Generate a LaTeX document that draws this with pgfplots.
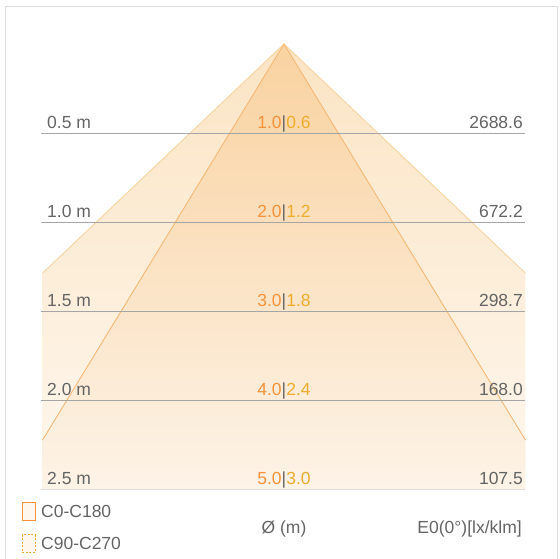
\documentclass[border=0pt]{standalone}
\usepackage{pgfplots}
\pgfplotsset{compat=1.18}
\usepackage{fontspec}
\setmainfont{Liberation Sans}
\definecolor{wideTop}{RGB}{251,228,196}
\definecolor{wideBot}{RGB}{254,247,238}
\definecolor{narTop}{RGB}{249,210,160}
\definecolor{narBot}{RGB}{253,243,231}
\definecolor{wideEdge}{RGB}{248,212,160}
\definecolor{narEdge}{RGB}{245,184,118}
\definecolor{cA}{RGB}{246,146,58}
\definecolor{cB}{RGB}{238,172,44}
\definecolor{txt}{RGB}{100,100,100}
\definecolor{rule}{RGB}{165,165,165}
\definecolor{frame}{RGB}{222,222,222}
\newcommand{\diam}[2]{\textcolor{cA}{#1}\textcolor{txt}{|}\textcolor{cB}{#2}}
\begin{document}
\begin{tikzpicture}[font=\fontsize{17.5bp}{20bp}\selectfont]
\begin{axis}[name=ax,
  width=560bp, height=559bp, scale only axis, hide axis, clip=false,
  xmin=-1.53514, xmax=1.49189,
  ymin=-0.24719, ymax=2.89326, y dir=reverse,
]
% frame
\addplot[frame, line width=1bp] coordinates {(-1.508,2.8933) (-1.508,-0.2079) (1.481,-0.2079) (1.481,2.8933)};
% wide cone (C0-C180)
\addplot[draw=none, top color=wideTop, bottom color=wideBot] coordinates {(0,0) (1.305,1.287) (1.305,2.5) (-1.305,2.5) (-1.305,1.287)} -- cycle;
% narrow cone (C90-C270)
\addplot[draw=none, top color=narTop, bottom color=narBot] coordinates {(0,0) (1.305,2.225) (1.305,2.5) (-1.305,2.5) (-1.305,2.225)} -- cycle;
\addplot[wideEdge, line width=0.9bp] coordinates {(-1.305,1.287) (0,0) (1.305,1.287)};
\addplot[narEdge, line width=0.9bp] coordinates {(-1.305,2.225) (0,0) (1.305,2.225)};
% distance rules
\addplot[rule, line width=0.9bp] coordinates {(-1.315,0.5) (1.305,0.5)};
\addplot[rule, line width=0.9bp] coordinates {(-1.315,1.0) (1.305,1.0)};
\addplot[rule, line width=0.9bp] coordinates {(-1.315,1.5) (1.305,1.5)};
\addplot[rule, line width=0.9bp] coordinates {(-1.315,2.0) (1.305,2.0)};
\addplot[frame, line width=0.9bp] coordinates {(-1.315,2.5) (1.305,2.5)};
% labels
\node[anchor=base west, text=txt, inner sep=0pt] at (axis cs:-1.281,0.475) {0.5 m};
\node[anchor=base west, text=txt, inner sep=0pt] at (axis cs:-1.281,0.975) {1.0 m};
\node[anchor=base west, text=txt, inner sep=0pt] at (axis cs:-1.281,1.475) {1.5 m};
\node[anchor=base west, text=txt, inner sep=0pt] at (axis cs:-1.281,1.975) {2.0 m};
\node[anchor=base west, text=txt, inner sep=0pt] at (axis cs:-1.281,2.475) {2.5 m};
\node[anchor=base, inner sep=0pt] at (axis cs:0,0.475) {\diam{1.0}{0.6}};
\node[anchor=base, inner sep=0pt] at (axis cs:0,0.975) {\diam{2.0}{1.2}};
\node[anchor=base, inner sep=0pt] at (axis cs:0,1.475) {\diam{3.0}{1.8}};
\node[anchor=base, inner sep=0pt] at (axis cs:0,1.975) {\diam{4.0}{2.4}};
\node[anchor=base, inner sep=0pt] at (axis cs:0,2.475) {\diam{5.0}{3.0}};
\node[anchor=base east, text=txt, inner sep=0pt] at (axis cs:1.292,0.475) {2688.6};
\node[anchor=base east, text=txt, inner sep=0pt] at (axis cs:1.292,0.975) {672.2};
\node[anchor=base east, text=txt, inner sep=0pt] at (axis cs:1.292,1.475) {298.7};
\node[anchor=base east, text=txt, inner sep=0pt] at (axis cs:1.292,1.975) {168.0};
\node[anchor=base east, text=txt, inner sep=0pt] at (axis cs:1.292,2.475) {107.5};
% legend
\draw[cA, line width=0.9bp, fill=wideBot] (axis cs:-1.416,2.573) rectangle (axis cs:-1.346,2.674);
\draw[cB, line width=0.9bp, dash pattern=on 2bp off 1.5bp, fill=wideBot] (axis cs:-1.416,2.758) rectangle (axis cs:-1.346,2.854);
\node[anchor=west, text=txt, inner sep=0pt] at (axis cs:-1.3135,2.6236) {C0-C180};
\node[anchor=west, text=txt, inner sep=0pt] at (axis cs:-1.3135,2.8034) {C90-C270};
\node[text=txt, inner sep=0pt] at (axis cs:0,2.725) {Ø (m)};
\node[anchor=east, text=txt, inner sep=0pt] at (axis cs:1.286,2.725) {E0(0°)[lx/klm]};
\end{axis}
\pgfresetboundingbox
\path (ax.south west) rectangle (ax.north east);
\end{tikzpicture}
\end{document}
